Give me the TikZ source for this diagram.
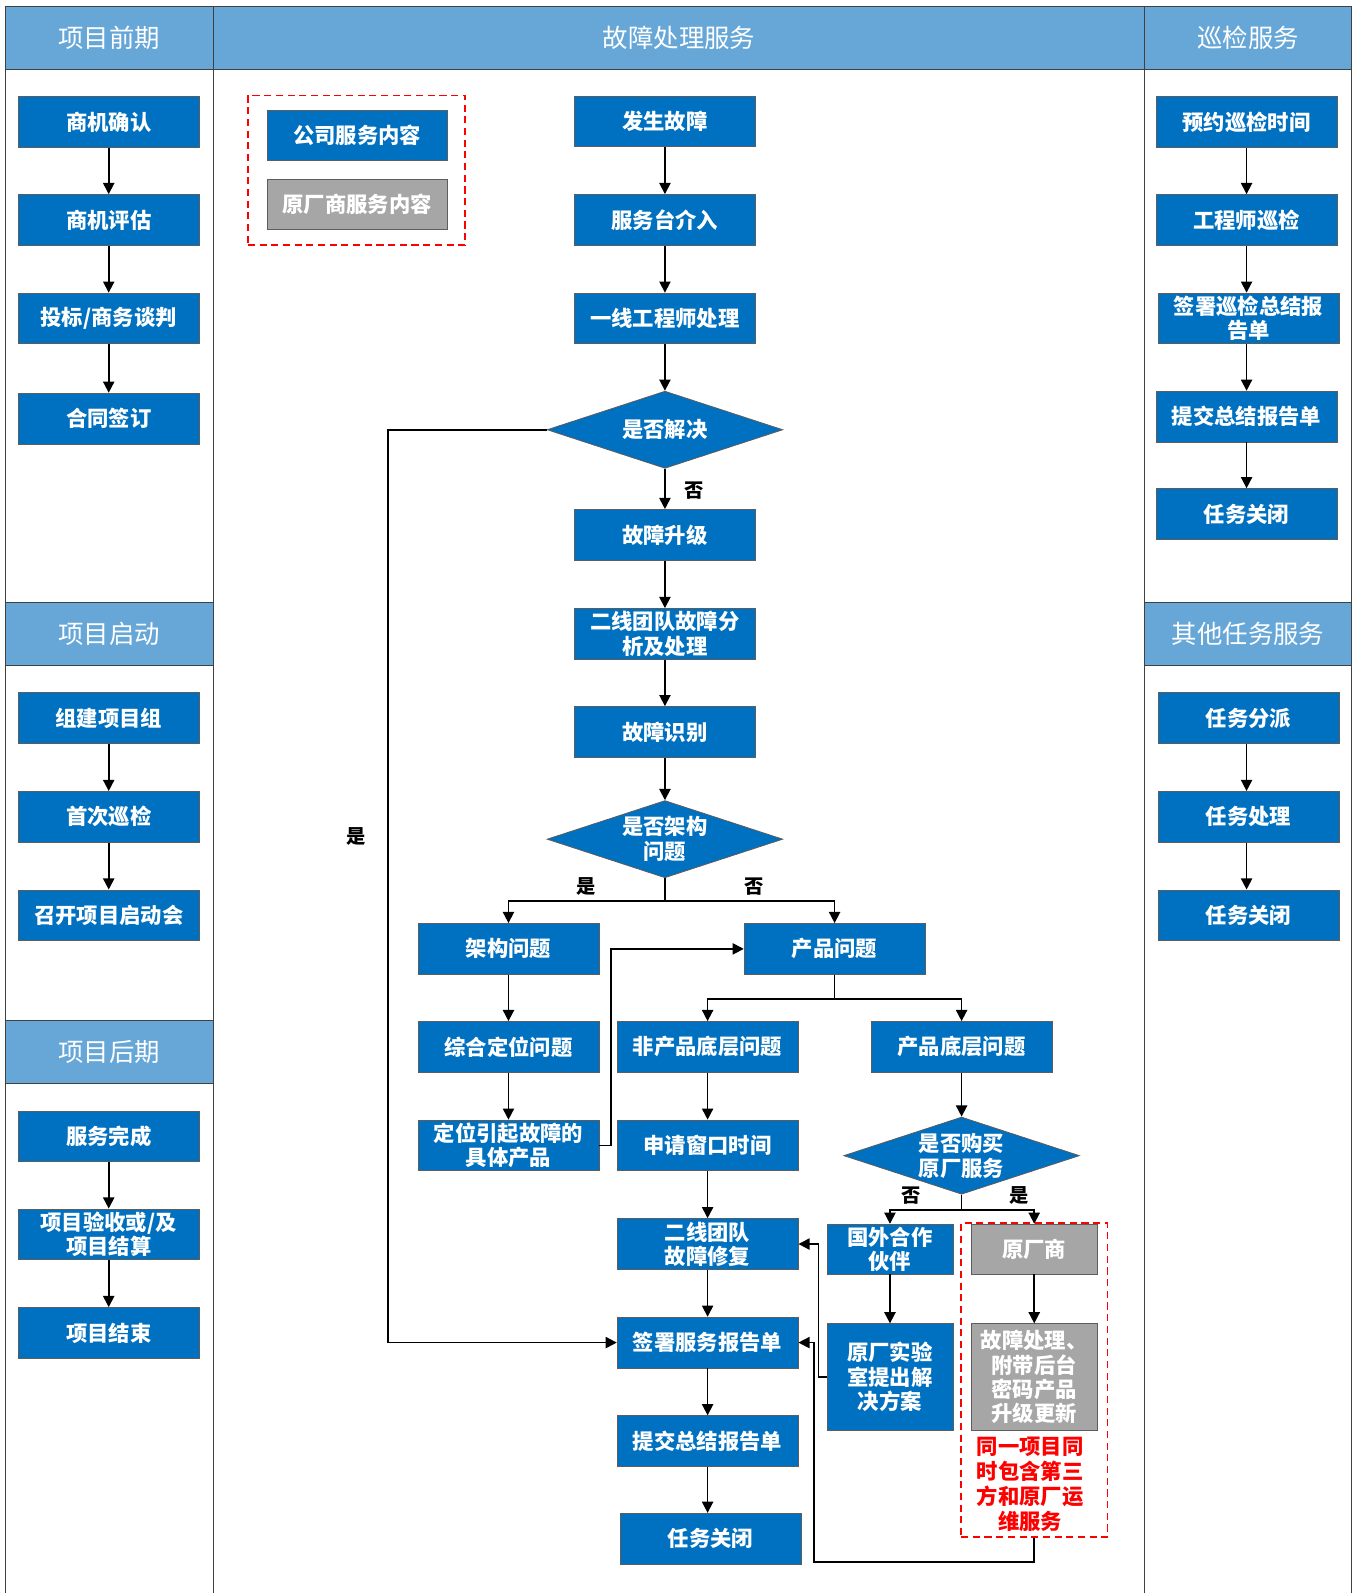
\documentclass[tikz,border=0pt]{standalone}
\usepackage{fontspec}
\setmainfont{Noto Sans CJK SC}
\usetikzlibrary{arrows.meta,shapes.geometric}
\definecolor{hdrblue}{HTML}{66A7D8}
\definecolor{boxblue}{HTML}{0070C0}
\definecolor{boxgray}{HTML}{A6A6A6}
\definecolor{frameln}{HTML}{404040}
\begin{document}
\begin{tikzpicture}[x=1pt,y=-1pt,
  stepbox/.style={rectangle, fill=boxblue, draw=frameln!85, line width=0.8pt,
    minimum width=178pt, minimum height=50pt, inner sep=0pt, text=white,
    align=center, font=\bfseries\fontsize{21}{24}\selectfont},
  graybox/.style={stepbox, fill=boxgray},
  narrowbox/.style={minimum width=124pt},
  decision/.style={diamond, aspect=3, fill=boxblue, draw=frameln!85, line width=0.8pt,
    minimum width=232pt, minimum height=76pt, inner sep=-8pt, text=white,
    align=center, font=\bfseries\fontsize{21}{25}\selectfont},
  header/.style={rectangle, fill=hdrblue, draw=frameln, line width=1pt, inner sep=0pt,
    text=white, font=\fontsize{25}{28}\selectfont},
  yesno/.style={font=\bfseries\fontsize{19}{20}\selectfont, inner sep=0pt},
  reddash/.style={draw=red, line width=1.6pt, dash pattern=on 7pt off 4.5pt, inner sep=0pt},
  conn/.style={line width=1.7pt, -{Triangle[width=11pt,length=11pt]}},
  frame/.style={draw=frameln, line width=1pt}
]
\useasboundingbox (0,0) rectangle (1336,1568);

% ---------- swimlane frame ----------
\node[header, minimum width=205pt, minimum height=62pt] (hpre) at (107.5,37) {项目前期};
\node[header, minimum width=917pt, minimum height=62pt] (hfault) at (668.5,37) {故障处理服务};
\node[header, minimum width=203pt, minimum height=62pt] (hinsp) at (1228.5,37) {巡检服务};
\node[header, minimum width=205pt, minimum height=62pt] (hstart) at (107.5,624) {项目启动};
\node[header, minimum width=205pt, minimum height=62pt] (hpost) at (107.5,1035) {项目后期};
\node[header, minimum width=203pt, minimum height=62pt] (hother) at (1228.5,624) {其他任务服务};
\draw[frame] (5,6) -- (5,1568);
\draw[frame] (210,6) -- (210,1568);
\draw[frame] (1127,6) -- (1127,1568);
\draw[frame] (1330,6) -- (1330,1568);

% ---------- left lane ----------
\node[stepbox] (lq1) at (107,120) {商机确认};
\node[stepbox] (lq2) at (107,216.5) {商机评估};
\node[stepbox] (lq3) at (107,313.5) {投标/商务谈判};
\node[stepbox] (lq4) at (107,412) {合同签订};
\node[stepbox] (ls1) at (107,707) {组建项目组};
\node[stepbox] (ls2) at (107,804) {首次巡检};
\node[stepbox] (ls3) at (107,901) {召开项目启动会};
\node[stepbox] (lh1) at (107,1118.5) {服务完成};
\node[stepbox] (lh2) at (107,1215) {项目验收或/及\\项目结算};
\node[stepbox] (lh3) at (107,1312) {项目结束};
\foreach \a/\b in {lq1/lq2,lq2/lq3,lq3/lq4,ls1/ls2,ls2/ls3,lh1/lh2,lh2/lh3}
  \draw[conn] (\a.south) -- (\b.north);

% ---------- right lane ----------
\node[stepbox] (r1) at (1227,120) {预约巡检时间};
\node[stepbox] (r2) at (1227,216.5) {工程师巡检};
\node[stepbox] (r3) at (1229,313.5) {签署巡检总结报\\告单};
\node[stepbox] (r4) at (1227,410) {提交总结报告单};
\node[stepbox] (r5) at (1227,506) {任务关闭};
\node[stepbox] (o1) at (1229,707) {任务分派};
\node[stepbox] (o2) at (1229,804) {任务处理};
\node[stepbox] (o3) at (1229,901) {任务关闭};
\foreach \a/\b in {r1/r2,r2/r3,r3/r4,r4/r5,o1/o2,o2/o3}
  \draw[conn] (\a.south -| r1.south) -- (\b.north -| r1.south);

% ---------- legend ----------
\node[reddash, minimum width=214pt, minimum height=147pt] (legend) at (351,167.5) {};
\node[stepbox, minimum width=177pt, minimum height=49pt] (leg1) at (351.5,133.5) {公司服务内容};
\node[graybox, minimum width=177pt, minimum height=49pt] (leg2) at (351.5,201.5) {原厂商服务内容};

% ---------- fault handling ----------
\node[stepbox] (m1) at (654.5,119.5) {发生故障};
\node[stepbox] (m2) at (654.5,216.5) {服务台介入};
\node[stepbox] (m3) at (654.5,313.5) {一线工程师处理};
\node[decision] (d1) at (654.5,423) {是否解决};
\node[stepbox] (m4) at (654.5,526.5) {故障升级};
\node[stepbox] (m5) at (654.5,624) {二线团队故障分\\析及处理};
\node[stepbox] (m6) at (654.5,720.5) {故障识别};
\node[decision] (d2) at (654.5,826) {是否架构\\问题};
\node[stepbox] (a1) at (500.5,934) {架构问题};
\node[stepbox] (p1) at (821.5,934) {产品问题};
\node[stepbox] (a2) at (500.5,1030.5) {综合定位问题};
\node[stepbox] (a3) at (500.5,1127.5) {定位引起故障的\\具体产品};
\node[stepbox] (n1) at (696.5,1030.5) {非产品底层问题};
\node[stepbox] (b1) at (946.5,1030.5) {产品底层问题};
\node[stepbox] (n2) at (696.5,1127.5) {申请窗口时间};
\node[decision] (d3) at (946.5,1137.5) {是否购买\\原厂服务};
\node[stepbox] (n3) at (696.5,1224.5) {二线团队\\故障修复};
\node[stepbox, narrowbox, minimum height=49pt] (f1) at (876,1229.5) {国外合作\\伙伴};
\node[graybox, narrowbox, minimum height=49pt] (g1) at (1018,1229.5) {原厂商};
\node[stepbox, narrowbox, minimum height=105pt] (f2) at (876,1355.5) {原厂实验\\室提出解\\决方案};
\node[graybox, narrowbox, minimum height=105pt] (g2) at (1018,1355.5) {故障处理、\\附带后台\\密码产品\\升级更新};
\node[text=red, align=center, inner sep=0pt, font=\bfseries\fontsize{21}{24.5}\selectfont]
  (note) at (1014,1461) {同一项目同\\时包含第三\\方和原厂运\\维服务};
\node[reddash, minimum width=144pt, minimum height=309pt] (oem) at (1018,1358.5) {};
\node[stepbox] (n4) at (696.5,1321.5) {签署服务报告单};
\node[stepbox] (n5) at (696.5,1418.5) {提交总结报告单};
\node[stepbox] (n6) at (699.5,1514.5) {任务关闭};

% main chain
\foreach \a/\b in {m1/m2,m2/m3,m3/d1,d1/m4,m4/m5,m5/m6,m6/d2,a1/a2,a2/a3,n1/n2,n2/n3,n3/n4,b1/d3,f1/f2,g1/g2}
  \draw[conn] (\a.south) -- (\b.north);
\draw[conn] (n4.south) -- (n5.north);
\draw[conn] (n5.south) -- (n6.north -| n5.south);

% decision branches
\coordinate (yesbend) at (382,423);
\draw[conn] (d1.west) -- (yesbend) |- (n4.west);
\draw[conn] (d2.south) -- ++(0,22.5) -| (a1.north);
\draw[conn] (d2.south) -- ++(0,22.5) -| (p1.north);
\draw[conn] (a3.east) -- ++(11.5,0) |- (p1.west);
\draw[conn] (p1.south) -- ++(0,24) -| (n1.north);
\draw[conn] (p1.south) -- ++(0,24) -| (b1.north);
\draw[conn] (d3.south) -- ++(0,15) -| (f1.north);
\draw[conn] (d3.south) -- ++(0,15) -| (g1.north);
\draw[conn] (f2.west) -- ++(-8,0) |- (n3.east);
\draw[conn] (oem.south) -- ++(0,24) -| ([xshift=15pt]n4.east) -- (n4.east);

% branch labels
\node[yesno] (l1) at (683,483) {否};
\node[yesno] (l2) at (351,823) {是};
\node[yesno] (l3) at (577,873) {是};
\node[yesno] (l4) at (742,873) {否};
\node[yesno] (l5) at (897,1177) {否};
\node[yesno] (l6) at (1003,1177) {是};
\end{tikzpicture}
\end{document}
